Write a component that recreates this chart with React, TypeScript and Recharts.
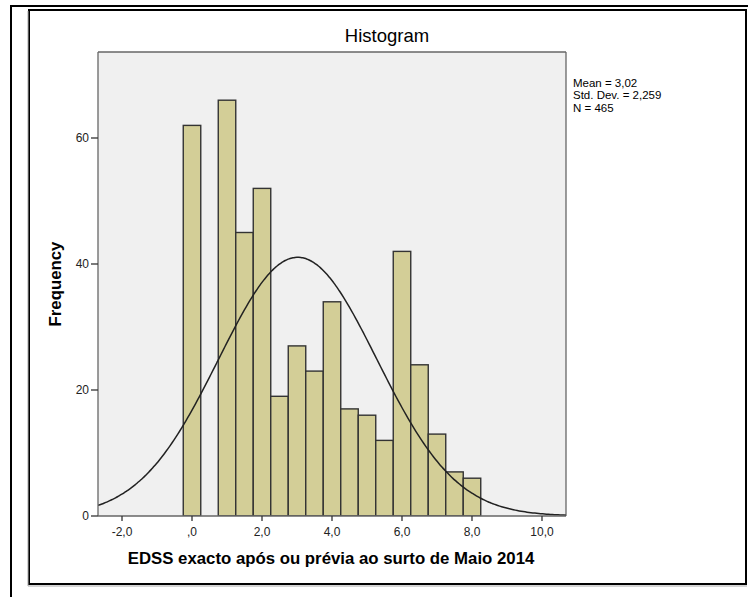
import React from 'react';
import {
  ComposedChart,
  Bar,
  Line,
  XAxis,
  YAxis,
  CartesianGrid,
  ReferenceLine,
} from 'recharts';

// Bin midpoints (EDSS) and their frequencies, bin width 0,5
const binCenters = [0, 1.0, 1.5, 2.0, 2.5, 3.0, 3.5, 4.0, 4.5, 5.0, 5.5, 6.0, 6.5, 7.0, 7.5, 8.0];
const binCounts = [62, 66, 45, 52, 19, 27, 23, 34, 17, 16, 12, 42, 24, 13, 7, 6];
const binWidth = 0.5;

// Summary statistics printed beside the plot
const statMean = 3.02;
const statSd = 2.259;
const statN = 465;
const statLines = ['Mean = 3,02', 'Std. Dev. = 2,259', 'N = 465'];

// Axis set-up
const xDomain: [number, number] = [-2.686, 10.686];
const yDomain: [number, number] = [0, 73.65];
const xTicks = [-2, 0, 2, 4, 6, 8, 10];
const yTicks = [0, 20, 40, 60];

const titleText = 'Histogram';
const xTitle = 'EDSS exacto após ou prévia ao surto de Maio 2014';
const yTitle = 'Frequency';

const bins = binCenters.map((x, i) => ({ x, count: binCounts[i] }));

// Normal curve scaled to the histogram (N * bin width * density)
const normalCurve = (() => {
  const pts: { x: number; freq: number }[] = [];
  const steps = 240;
  for (let i = 0; i <= steps; i++) {
    const x = xDomain[0] + ((xDomain[1] - xDomain[0]) * i) / steps;
    const z = (x - statMean) / statSd;
    const freq = (statN * binWidth * Math.exp(-0.5 * z * z)) / (statSd * Math.sqrt(2 * Math.PI));
    pts.push({ x, freq });
  }
  return pts;
})();

const W = 748;
const H = 597;
const margin = { top: 52, right: 182, bottom: 0, left: 0 };
const yAxisWidth = 98;
const xAxisHeight = 81;
const plotWidth = W - margin.left - margin.right - yAxisWidth;
const barPx = (binWidth * plotWidth) / (xDomain[1] - xDomain[0]);

const font = '"Liberation Sans", Arial, sans-serif';

const fmtX = (v: number) => (v === 0 ? ',0' : v.toFixed(1).replace('.', ','));

// Each bin is drawn as a rectangle one bin wide, centred on the scaled bin midpoint
const BinRect = (props: any) => {
  const { x, y, width, height } = props;
  if (height == null || height <= 0) return null;
  const cx = x + width / 2;
  return (
    <rect
      x={cx - barPx / 2}
      y={y}
      width={barPx}
      height={height}
      fill="#d3ce97"
      stroke="#333"
      strokeWidth={1.4}
    />
  );
};

export default function App() {
  return (
    <div style={{ position: 'absolute', left: 0, top: 0, width: W, height: H, background: '#fff' }}>
      <ComposedChart width={W} height={H} data={bins} margin={margin} style={{ fontFamily: font }}>
        {/* page frames */}
        <line x1={10} y1={6} x2={W} y2={6} stroke="#000" strokeWidth={2} />
        <line x1={11} y1={5} x2={11} y2={H} stroke="#000" strokeWidth={2} />
        <rect x={29} y={10} width={717} height={574} fill="none" stroke="#000" strokeWidth={2} />
        <rect x={27.5} y={11} width={1} height={575} fill="#aaa" />
        <rect x={28} y={585.5} width={719} height={1} fill="#aaa" />

        <text x={387} y={42} textAnchor="middle" fontSize={18.5} fill="#000" fontFamily={font}>
          {titleText}
        </text>
        {statLines.map((s, i) => (
          <text key={s} x={573} y={87 + i * 12.4} fontSize={11.5} fill="#000" fontFamily={font}>
            {s}
          </text>
        ))}
        <text
          x={61}
          y={284}
          transform="rotate(-90 61 284)"
          textAnchor="middle"
          fontSize={16.8}
          fontWeight="bold"
          fill="#000"
          fontFamily={font}
        >
          {yTitle}
        </text>
        <text x={331} y={564} textAnchor="middle" fontSize={16.8} fontWeight="bold" fill="#000" fontFamily={font}>
          {xTitle}
        </text>

        <CartesianGrid fill="#f0f0f0" horizontal={false} vertical={false} />
        <XAxis
          dataKey="x"
          type="number"
          domain={xDomain}
          ticks={xTicks}
          allowDataOverflow
          height={xAxisHeight}
          tickFormatter={fmtX}
          tickSize={5}
          tickMargin={6.5}
          axisLine={{ stroke: '#666', strokeWidth: 1.3 }}
          tickLine={{ stroke: '#333', strokeWidth: 1.3 }}
          tick={{ fill: '#222', fontSize: 12, fontFamily: font }}
        />
        <YAxis
          type="number"
          domain={yDomain}
          ticks={yTicks}
          allowDataOverflow
          width={yAxisWidth}
          tickSize={7}
          tickMargin={2}
          axisLine={{ stroke: '#666', strokeWidth: 1.3 }}
          tickLine={{ stroke: '#333', strokeWidth: 1.3 }}
          tick={{ fill: '#222', fontSize: 12, fontFamily: font }}
        />
        <ReferenceLine y={yDomain[1]} stroke="#666" strokeWidth={1.3} />
        <ReferenceLine x={xDomain[1]} stroke="#666" strokeWidth={1.3} />
        <Bar dataKey="count" shape={BinRect} isAnimationActive={false} />
        <Line
          data={normalCurve}
          dataKey="freq"
          type="monotone"
          stroke="#222"
          strokeWidth={1.5}
          dot={false}
          activeDot={false}
          isAnimationActive={false}
        />
      </ComposedChart>
    </div>
  );
}
